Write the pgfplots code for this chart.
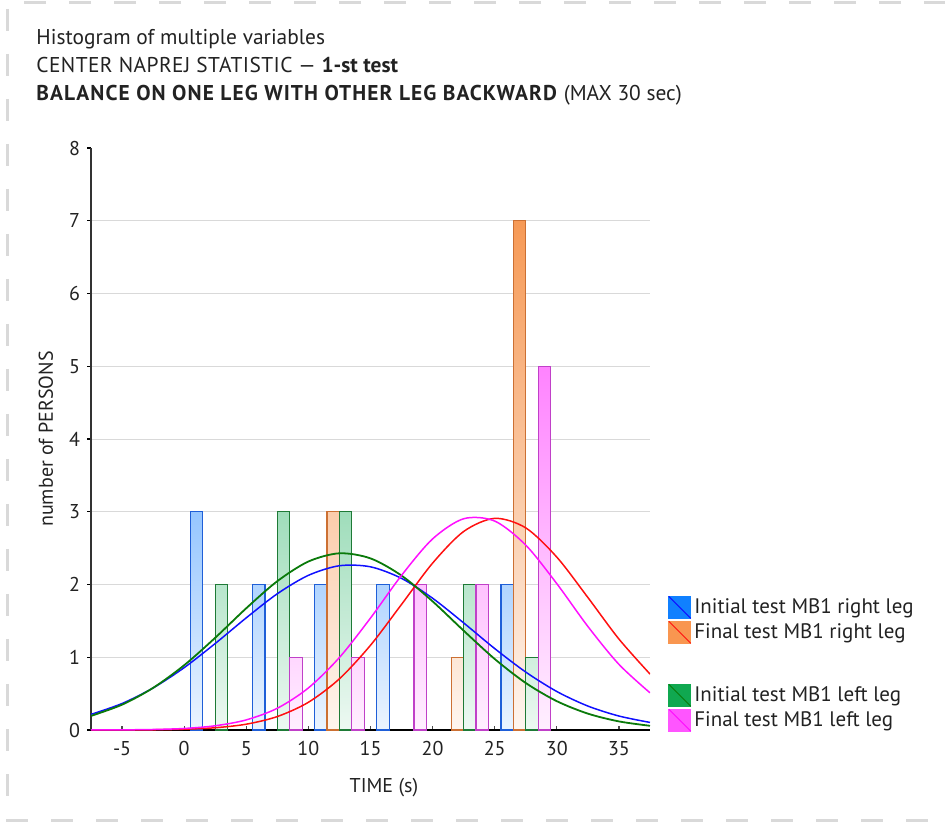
\documentclass[border=0pt]{standalone}
\usepackage{pgfplots}
\pgfplotsset{compat=1.18}
\usepackage{fontspec}
\setmainfont{PT Sans}
\definecolor{bblue}{HTML}{0A7AFF}
\definecolor{borange}{HTML}{F58A3C}
\definecolor{bgreen}{HTML}{20B060}
\definecolor{bpink}{HTML}{FF40FF}
\definecolor{eblue}{HTML}{1F5FD8}
\definecolor{eorange}{HTML}{CC7033}
\definecolor{egreen}{HTML}{1E7A36}
\definecolor{epink}{HTML}{C040C8}
\definecolor{cblue}{HTML}{1010FF}
\definecolor{cred}{HTML}{FF1010}
\definecolor{cgreen}{HTML}{0A7A0A}
\definecolor{cmag}{HTML}{FF10FF}
\definecolor{lblue}{HTML}{1080FF}
\definecolor{lorange}{HTML}{F99650}
\definecolor{lgreen}{HTML}{10A850}
\definecolor{lmag}{HTML}{FF55FF}
\definecolor{txt}{HTML}{222222}
\pgfplotsset{hbar/.style={ybar, bar width=1, bar shift=0pt, forget plot, line width=0.6pt}}
\begin{document}
\begin{tikzpicture}
\useasboundingbox (0,0) rectangle (472.5pt,411.5pt);
\draw[black!15, line width=1.5pt, dash pattern=on 11pt off 11.5pt] (473pt,410pt) -- (3.5pt,410pt) -- (3.5pt,1.5pt) -- (473pt,1.5pt);
\node[anchor=base west, inner sep=0pt, text=txt, font=\fontsize{10.7}{12}\selectfont] at (18pt,389pt) {Histogram of multiple variables};
\node[anchor=base west, inner sep=0pt, text=txt, font=\fontsize{10.7}{12}\selectfont] at (18pt,375pt) {{\addfontfeature{LetterSpace=2}CENTER NAPREJ STATISTIC} — \textbf{1-st test}};
\node[anchor=base west, inner sep=0pt, text=txt, font=\fontsize{10.7}{12}\selectfont] at (18pt,361pt) {\textbf{\addfontfeature{LetterSpace=5}BALANCE ON ONE LEG WITH OTHER LEG BACKWARD} (MAX 30 sec)};
\begin{axis}[
  at={(45.5pt,46.5pt)}, anchor=south west,
  scale only axis, width=279.5pt, height=291pt,
  xmin=-7.5, xmax=37.5, ymin=0, ymax=8,
  axis x line=bottom, axis y line=left,
  x axis line style={-, black, line width=0.75pt},
  y axis line style={-, black!80, line width=0.75pt},
  xtick={-5,0,...,35}, ytick={0,...,8},
  minor ytick={1,...,7}, yminorgrids,
  minor tick length=0pt,
  minor grid style={black!15, line width=0.5pt},
  tick align=outside, major tick length=2pt,
  xtick style={yshift=2pt, black!70, line width=0.6pt},
  ytick style={black, line width=0.6pt},
  /pgf/number format/assume math mode=true,
  tick label style={font=\fontsize{10}{12}\selectfont, text=txt},
  xlabel={TIME (s)}, ylabel={number of PERSONS},
  label style={font=\fontsize{10}{12}\selectfont, text=txt},
  xlabel style={at={(axis description cs:0.524,0)}, anchor=center, yshift=-29pt},
  ylabel style={at={(axis description cs:-0.0805,0.5)}, anchor=center},
  legend style={at={(1.032,0.232)}, anchor=north west, draw=none, fill=none, inner sep=0pt, row sep=0.5pt, font=\fontsize{10.5}{12}\selectfont, text=txt, nodes={inner sep=1.5pt}},
  legend cell align=left,
  clip=true,
]
% blue: initial right
\addplot[hbar, draw=eblue, top color=bblue!43!white, bottom color=bblue!8!white] coordinates {(1,3)};
\addplot[hbar, draw=eblue, top color=bblue!32!white, bottom color=bblue!8!white] coordinates {(6,2) (11,2) (16,2) (26,2)};
% orange: final right
\addplot[hbar, draw=eorange, top color=borange!43!white, bottom color=borange!8!white] coordinates {(12,3)};
\addplot[hbar, draw=eorange, top color=borange!21!white, bottom color=borange!8!white] coordinates {(22,1)};
\addplot[hbar, draw=eorange, top color=borange!87!white, bottom color=borange!8!white] coordinates {(27,7)};
% green: initial left
\addplot[hbar, draw=egreen, top color=bgreen!32!white, bottom color=bgreen!8!white] coordinates {(3,2) (23,2)};
\addplot[hbar, draw=egreen, top color=bgreen!43!white, bottom color=bgreen!8!white] coordinates {(8,3) (13,3)};
\addplot[hbar, draw=egreen, top color=bgreen!21!white, bottom color=bgreen!8!white] coordinates {(28,1)};
% pink: final left
\addplot[hbar, draw=epink, top color=bpink!21!white, bottom color=bpink!8!white] coordinates {(9,1) (14,1)};
\addplot[hbar, draw=epink, top color=bpink!32!white, bottom color=bpink!8!white] coordinates {(19,2) (24,2)};
\addplot[hbar, draw=epink, top color=bpink!65!white, bottom color=bpink!8!white] coordinates {(29,5)};
% fitted normal curves
\addplot[cblue, line width=0.75pt, smooth, forget plot] coordinates {(-7.5,0.215)(-5,0.364)(-2.5,0.578)(0,0.857)(2.5,1.189)(5,1.542)(7.5,1.873)(10,2.126)(12.5,2.258)(15,2.243)(17.5,2.084)(20,1.811)(22.5,1.472)(25,1.119)(27.5,0.796)(30,0.529)(32.5,0.329)(35,0.192)(37.5,0.104)};
\addplot[cred, line width=0.75pt, smooth, forget plot] coordinates {(-7.5,0.0002)(-5,0.001)(-2.5,0.003)(0,0.011)(2.5,0.031)(5,0.080)(7.5,0.185)(10,0.381)(12.5,0.704)(15,1.165)(17.5,1.727)(20,2.294)(22.5,2.729)(25,2.909)(27.5,2.778)(30,2.376)(32.5,1.821)(35,1.250)(37.5,0.769)};
\addplot[cgreen, line width=0.9pt, smooth, forget plot] coordinates {(-7.5,0.194)(-5,0.348)(-2.5,0.579)(0,0.890)(2.5,1.268)(5,1.674)(7.5,2.046)(10,2.316)(12.5,2.429)(15,2.359)(17.5,2.122)(20,1.768)(22.5,1.365)(25,0.976)(27.5,0.646)(30,0.396)(32.5,0.225)(35,0.118)(37.5,0.058)};
\addplot[cmag, line width=0.75pt, smooth, forget plot] coordinates {(-7.5,0.001)(-5,0.002)(-2.5,0.007)(0,0.021)(2.5,0.058)(5,0.139)(7.5,0.299)(10,0.578)(12.5,0.997)(15,1.539)(17.5,2.126)(20,2.627)(22.5,2.904)(25,2.872)(27.5,2.541)(30,2.011)(32.5,1.423)(35,0.902)(37.5,0.511)};
% legend
\addlegendimage{legend image code/.code={\fill[lblue] (0pt,-5.5pt) rectangle (11pt,5.5pt); \draw[cblue,line width=0.5pt] (0pt,5.5pt)--(11pt,-5.5pt);}}
\addlegendentry{Initial test MB1 right leg}
\addlegendimage{legend image code/.code={\fill[lorange] (0pt,-5.5pt) rectangle (11pt,5.5pt); \draw[cred,line width=0.5pt] (0pt,5.5pt)--(11pt,-5.5pt);}}
\addlegendentry{Final test MB1 right leg}
\addlegendimage{empty legend}
\addlegendentry{\rule{0pt}{14pt}}
\addlegendimage{legend image code/.code={\fill[lgreen] (0pt,-5.5pt) rectangle (11pt,5.5pt); \draw[cgreen,line width=0.5pt] (0pt,5.5pt)--(11pt,-5.5pt);}}
\addlegendentry{Initial test MB1 left leg}
\addlegendimage{legend image code/.code={\fill[lmag] (0pt,-5.5pt) rectangle (11pt,5.5pt); \draw[cmag,line width=0.5pt] (0pt,5.5pt)--(11pt,-5.5pt);}}
\addlegendentry{Final test MB1 left leg}
\end{axis}
\end{tikzpicture}
\end{document}
